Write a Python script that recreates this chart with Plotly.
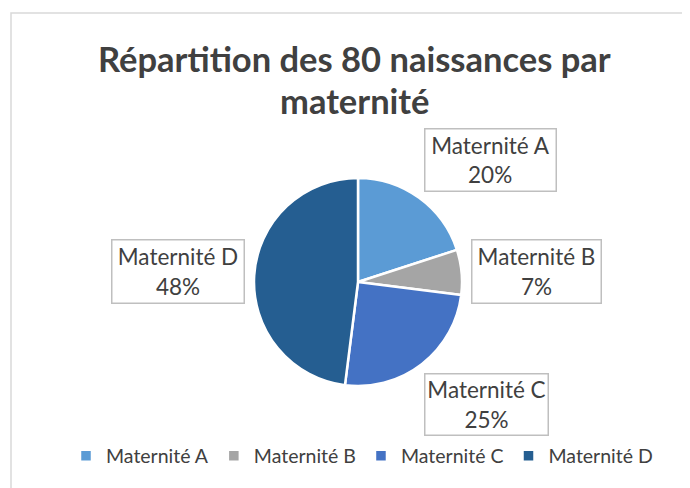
import plotly.graph_objects as go

labels = ["Maternité A", "Maternité B", "Maternité C", "Maternité D"]
values = [20, 7, 25, 48]
colors = ["#5B9BD5", "#A5A5A5", "#4472C4", "#255E91"]
title_lines = ["Répartition des 80 naissances par", "maternité"]

W, H = 690, 488
OFF = 8  # page body margin
FONT = "Lato"
TXT = "#404040"

def px(x):
    return (x - OFF) / W

def py(y):
    return 1 - (y - OFF) / H

cx, cy, r = 358, 282, 104

fig = go.Figure(go.Pie(
    labels=labels, values=values, sort=False, direction="clockwise", rotation=0,
    marker=dict(colors=colors, line=dict(color="white", width=2.5)),
    textinfo="none", hoverinfo="label+percent",
    domain=dict(x=[px(cx - r), px(cx + r)], y=[py(cy + r), py(cy - r)]),
))

# label boxes (centre positions, box sizes)
boxes = [(491, 160, 134, 65), (536, 271, 132, 66), (487, 404, 126, 64), (178, 271, 135, 66)]
total = sum(values)
for (bx, by, bw, bh), lab, v in zip(boxes, labels, values):
    fig.add_annotation(
        x=px(bx), y=py(by), xref="paper", yref="paper", xanchor="center", yanchor="middle",
        text=f"{lab}<br>{round(100 * v / total)}%", showarrow=False,
        width=bw - 4, height=bh - 4, align="center", valign="middle",
        bordercolor="#BFBFBF", borderwidth=1.5, borderpad=0, bgcolor="white",
        font=dict(family=FONT, size=22.5, color=TXT),
    )

for ty, line in zip([58, 100], title_lines):
    fig.add_annotation(
        x=px(355), y=py(ty), xref="paper", yref="paper", xanchor="center", yanchor="middle",
        text=f"<b>{line}</b>", showarrow=False,
        font=dict(family=FONT, size=34.5, color=TXT),
    )

fig.add_shape(type="rect", xref="paper", yref="paper",
              x0=px(11), x1=1.2, y0=-0.2, y1=py(13),
              line=dict(color="#D9D9D9", width=1.5), fillcolor="rgba(0,0,0,0)")

fig.update_layout(
    width=W, height=H, margin=dict(l=0, r=0, t=0, b=0),
    paper_bgcolor="white", plot_bgcolor="white",
    showlegend=True,
    legend=dict(orientation="h", x=px(362), xanchor="center", y=py(456), yanchor="middle",
                font=dict(family=FONT, size=19.5, color=TXT), itemwidth=30,
                traceorder="normal"),
)

fig.write_html("out.html")
